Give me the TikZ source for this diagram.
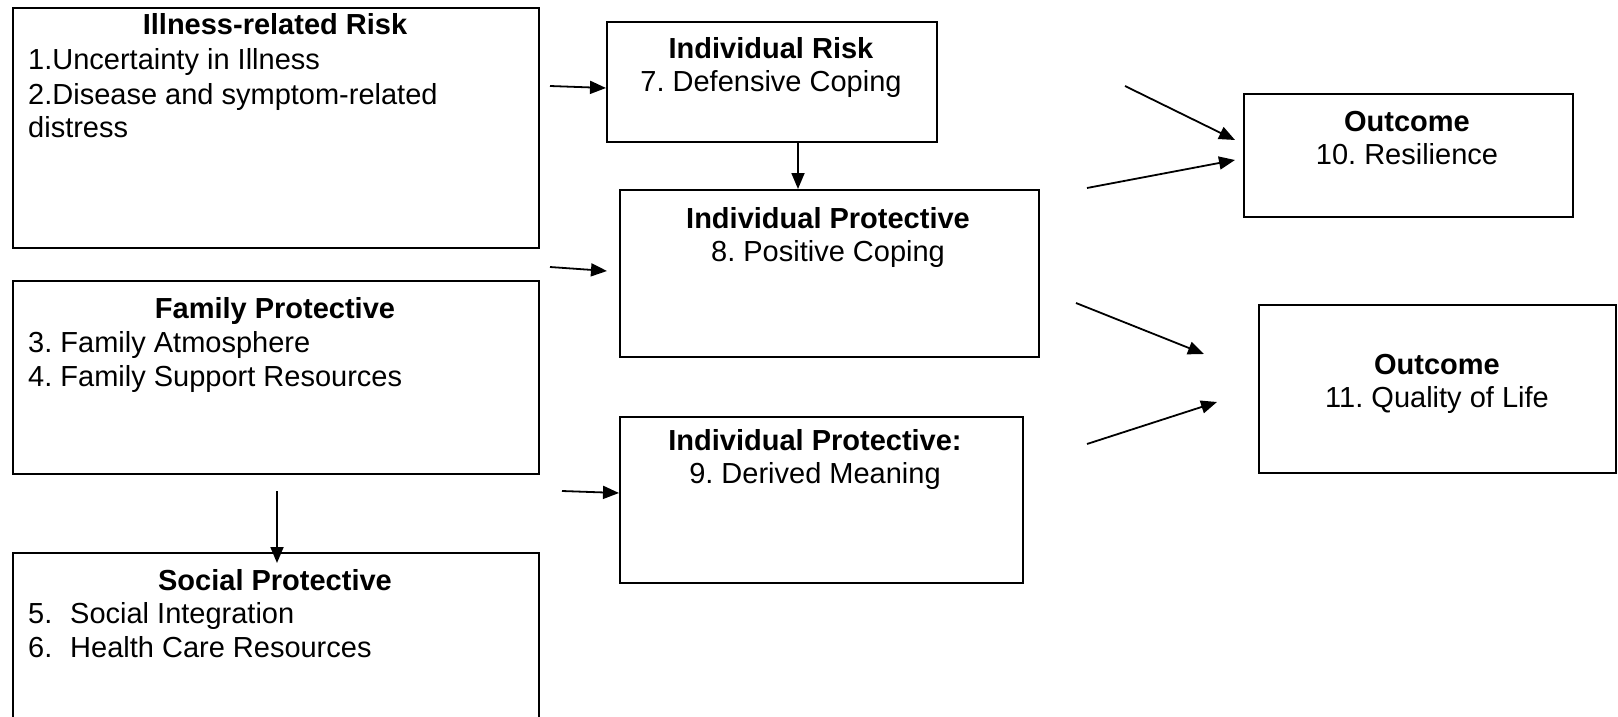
\documentclass[tikz,border=0pt]{standalone}
\usepackage{fontspec}
\setmainfont{Liberation Sans}
\usetikzlibrary{arrows.meta}
\pgfdeclarelayer{background}
\pgfsetlayers{background,main}
\frenchspacing
\begin{document}
\begin{tikzpicture}[x=1pt,y=-1pt,
  box/.style={draw, line width=1.6pt, fill=white, inner sep=0pt, anchor=north west},
  hd/.style={anchor=base, inner sep=0pt, font=\fontsize{29}{34}\selectfont\bfseries},
  tx/.style={anchor=base, inner sep=0pt, font=\fontsize{29}{34}\selectfont},
  itm/.style={anchor=base west, inner sep=0pt, font=\fontsize{29}{34}\selectfont},
  arr/.style={line width=1.8pt, -{Triangle[length=16pt,width=13pt]}}]
\fill[white] (0,0) rectangle (1618,717);
\useasboundingbox (0,0) rectangle (1618,717);

% boxes
\node[box, minimum width=526pt, minimum height=240pt] (A) at (12,7) {};
\node[box, minimum width=330pt, minimum height=120pt] (B) at (606,21) {};
\node[box, minimum width=419pt, minimum height=167pt] (C) at (619,189) {};
\node[box, minimum width=403pt, minimum height=166pt] (D) at (619,416) {};
\node[box, minimum width=526pt, minimum height=193pt] (E) at (12,280) {};
\node[box, minimum width=526pt, minimum height=200pt] (F) at (12,552) {};
\node[box, minimum width=329pt, minimum height=123pt] (G) at (1243,93) {};
\node[box, minimum width=357pt, minimum height=168pt] (H) at (1258,304) {};

% box texts
\node[hd] (Ah) at (275,35) {Illness-related Risk};
\node[itm] (A1) at (28,70) {1.Uncertainty in Illness};
\node[itm] (A2) at (28,104) {2.Disease and symptom-related};
\node[itm] (A3) at (28,137) {distress};

\node[hd] (Bh) at (771,59) {Individual Risk};
\node[tx] (B1) at (771,92) {7. Defensive Coping};

\node[hd] (Ch) at (828,228) {Individual Protective};
\node[tx] (C1) at (828,261) {8. Positive Coping};

\node[hd] (Dh) at (815,450) {Individual Protective:};
\node[tx] (D1) at (815,483) {9. Derived Meaning};

\node[hd] (Eh) at (275,318) {Family Protective};
\node[itm] (E1) at (28,352) {3. Family Atmosphere};
\node[itm] (E2) at (28,386) {4. Family Support Resources};

\node[hd] (Fh) at (275,590) {Social Protective};
\node[itm] (F1) at (28,623) {\makebox[42pt][l]{5.}Social Integration};
\node[itm] (F2) at (28,657) {\makebox[42pt][l]{6.}Health Care Resources};

\node[hd] (Gh) at (1407,131) {Outcome};
\node[tx] (G1) at (1407,164) {10. Resilience};

\node[hd] (Hh) at (1437,374) {Outcome};
\node[tx] (H1) at (1437,407) {11. Quality of Life};

% arrow ends
\coordinate (ab0) at (550,86);  \coordinate (ab1) at (606,88);
\coordinate (bc)  at (798,0);
\coordinate (ac0) at (550,267); \coordinate (ac1) at (607,271);
\coordinate (cd0) at (798,368); \coordinate (cd1) at (798,428);
\coordinate (ad0) at (562,491); \coordinate (ad1) at (619,493);
\coordinate (ef0) at (277,491); \coordinate (ef1) at (277,563);
\coordinate (g10) at (1125,86); \coordinate (g11) at (1235,140);
\coordinate (g20) at (1087,188); \coordinate (g21) at (1235,160);
\coordinate (h10) at (1076,303); \coordinate (h11) at (1204,354);
\coordinate (h20) at (1087,444); \coordinate (h21) at (1217,402);

% connectors
\draw[arr] (ab0) -- (B.west |- ab1);
\draw[arr] (B.south -| bc) -- (C.north -| bc);
\draw[arr] (ac0) -- (ac1);
\begin{pgfonlayer}{background}
\draw[arr] (cd0) -- (cd1);
\end{pgfonlayer}
\draw[arr] (ad0) -- (D.west |- ad1);
\draw[arr] (ef0) -- (ef1);
\draw[arr] (g10) -- (g11);
\draw[arr] (g20) -- (g21);
\draw[arr] (h10) -- (h11);
\draw[arr] (h20) -- (h21);
\end{tikzpicture}
\end{document}
